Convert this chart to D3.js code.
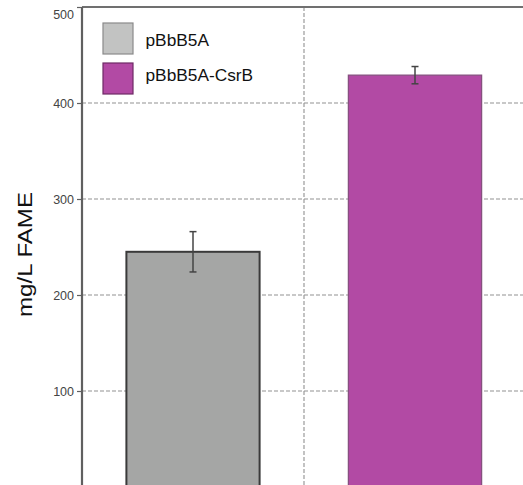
<!DOCTYPE html>
<html><head><meta charset="utf-8">
<script src="https://cdn.jsdelivr.net/npm/d3@7"></script>
<style>html,body{margin:0;padding:0;background:#fff;}svg{display:block;}</style>
</head><body>
<script>
const categories = ["pBbB5A", "pBbB5A-CsrB"];
const values = [245, 429];
const errors = [21, 9];
const yTicks = [100, 200, 300, 400, 500];
const colors = ["#a5a6a5", "#b24aa4"];
const legendColors = ["#c2c3c2", "#b24aa4"];

(function () {
const W = 523, H = 485;
const svg = d3.select("body").append("svg").attr("width", W).attr("height", H);
const mLeft = 82, mRight = 526, mTop = 7, mBottom = 487;

const x = d3.scaleBand().domain(categories).range([mLeft, mRight]).paddingInner(0).paddingOuter(0);
const y = d3.scaleLinear().domain([0, 500]).range([mBottom, mTop]);
const bw = x.bandwidth() * 0.6;

// gridlines
const grid = svg.append("g");
grid.selectAll("line.h").data(yTicks.filter(t => t < 500)).enter().append("line")
  .attr("x1", mLeft).attr("x2", mRight).attr("y1", d => y(d)).attr("y2", d => y(d))
  .attr("stroke", "#929292").attr("stroke-width", 1.1).attr("stroke-dasharray", "4,2");
grid.append("line").attr("x1", x(categories[1])).attr("x2", x(categories[1]))
  .attr("y1", mTop).attr("y2", H).attr("stroke", "#929292").attr("stroke-width", 1.1).attr("stroke-dasharray", "4,2");

// bars
svg.selectAll("rect.bar").data(categories).enter().append("rect")
  .attr("x", d => x(d) + (x.bandwidth() - bw) / 2)
  .attr("y", (d, i) => y(values[i]))
  .attr("width", bw)
  .attr("height", (d, i) => y(0) - y(values[i]))
  .attr("fill", (d, i) => colors[i])
  .attr("stroke", (d, i) => i === 0 ? "#3a3a3a" : "#86507f")
  .attr("stroke-width", (d, i) => i === 0 ? 2 : 1.3);

// error bars
const eb = svg.append("g");
categories.forEach((c, i) => {
  const cx = x(c) + x.bandwidth() / 2;
  const y1 = y(values[i] + errors[i]), y2 = y(values[i] - errors[i]);
  eb.append("line").attr("x1", cx).attr("x2", cx).attr("y1", y1).attr("y2", y2).attr("stroke", "#444").attr("stroke-width", 1.5);
  [y1, y2].forEach(yy => eb.append("line").attr("x1", cx - 3.5).attr("x2", cx + 3.5).attr("y1", yy).attr("y2", yy).attr("stroke", "#444").attr("stroke-width", 1.5));
});

// frame
svg.append("line").attr("x1", mLeft).attr("x2", W).attr("y1", mTop).attr("y2", mTop).attr("stroke", "#707070").attr("stroke-width", 2);

// y axis
const yAxis = d3.axisLeft(y).tickValues(yTicks).tickSize(5).tickPadding(3).tickFormat(d3.format("d"));
const ga = svg.append("g").attr("transform", `translate(${mLeft},0)`).call(yAxis);
ga.select(".domain").attr("stroke", "#606060").attr("stroke-width", 2.2).attr("d", `M0,${mTop}V${H}`);
ga.selectAll(".tick line").attr("stroke", "#606060").attr("stroke-width", 1.2);
ga.selectAll(".tick text").attr("font-family", "Liberation Sans, Arial, sans-serif").attr("font-size", 12.5)
  .attr("fill", "#444");
ga.selectAll(".tick").filter(d => d === 500).select("text").attr("dy", "0.9em");

// y label
svg.append("text").attr("transform", `translate(32,254.5) rotate(-90)`)
  .attr("text-anchor", "middle").attr("font-family", "Liberation Sans, Arial, sans-serif")
  .attr("font-size", 21).attr("fill", "#111").attr("textLength", 125).attr("lengthAdjust", "spacingAndGlyphs")
  .text("mg/L FAME");

// legend
const lg = svg.append("g");
const swatchY = [23, 63], textBase = [45.5, 81];
categories.forEach((c, i) => {
  lg.append("rect").attr("x", 103).attr("y", swatchY[i]).attr("width", 30).attr("height", 31)
    .attr("fill", legendColors[i]).attr("stroke", i === 0 ? "#8a8a8a" : "#6e2a66").attr("stroke-width", 1.2);
  lg.append("text").attr("x", 145.5).attr("y", textBase[i])
    .attr("font-family", "Liberation Sans, Arial, sans-serif").attr("font-size", 17.3).attr("fill", "#111")
    .text(c);
});
})();
</script>
</body></html>
